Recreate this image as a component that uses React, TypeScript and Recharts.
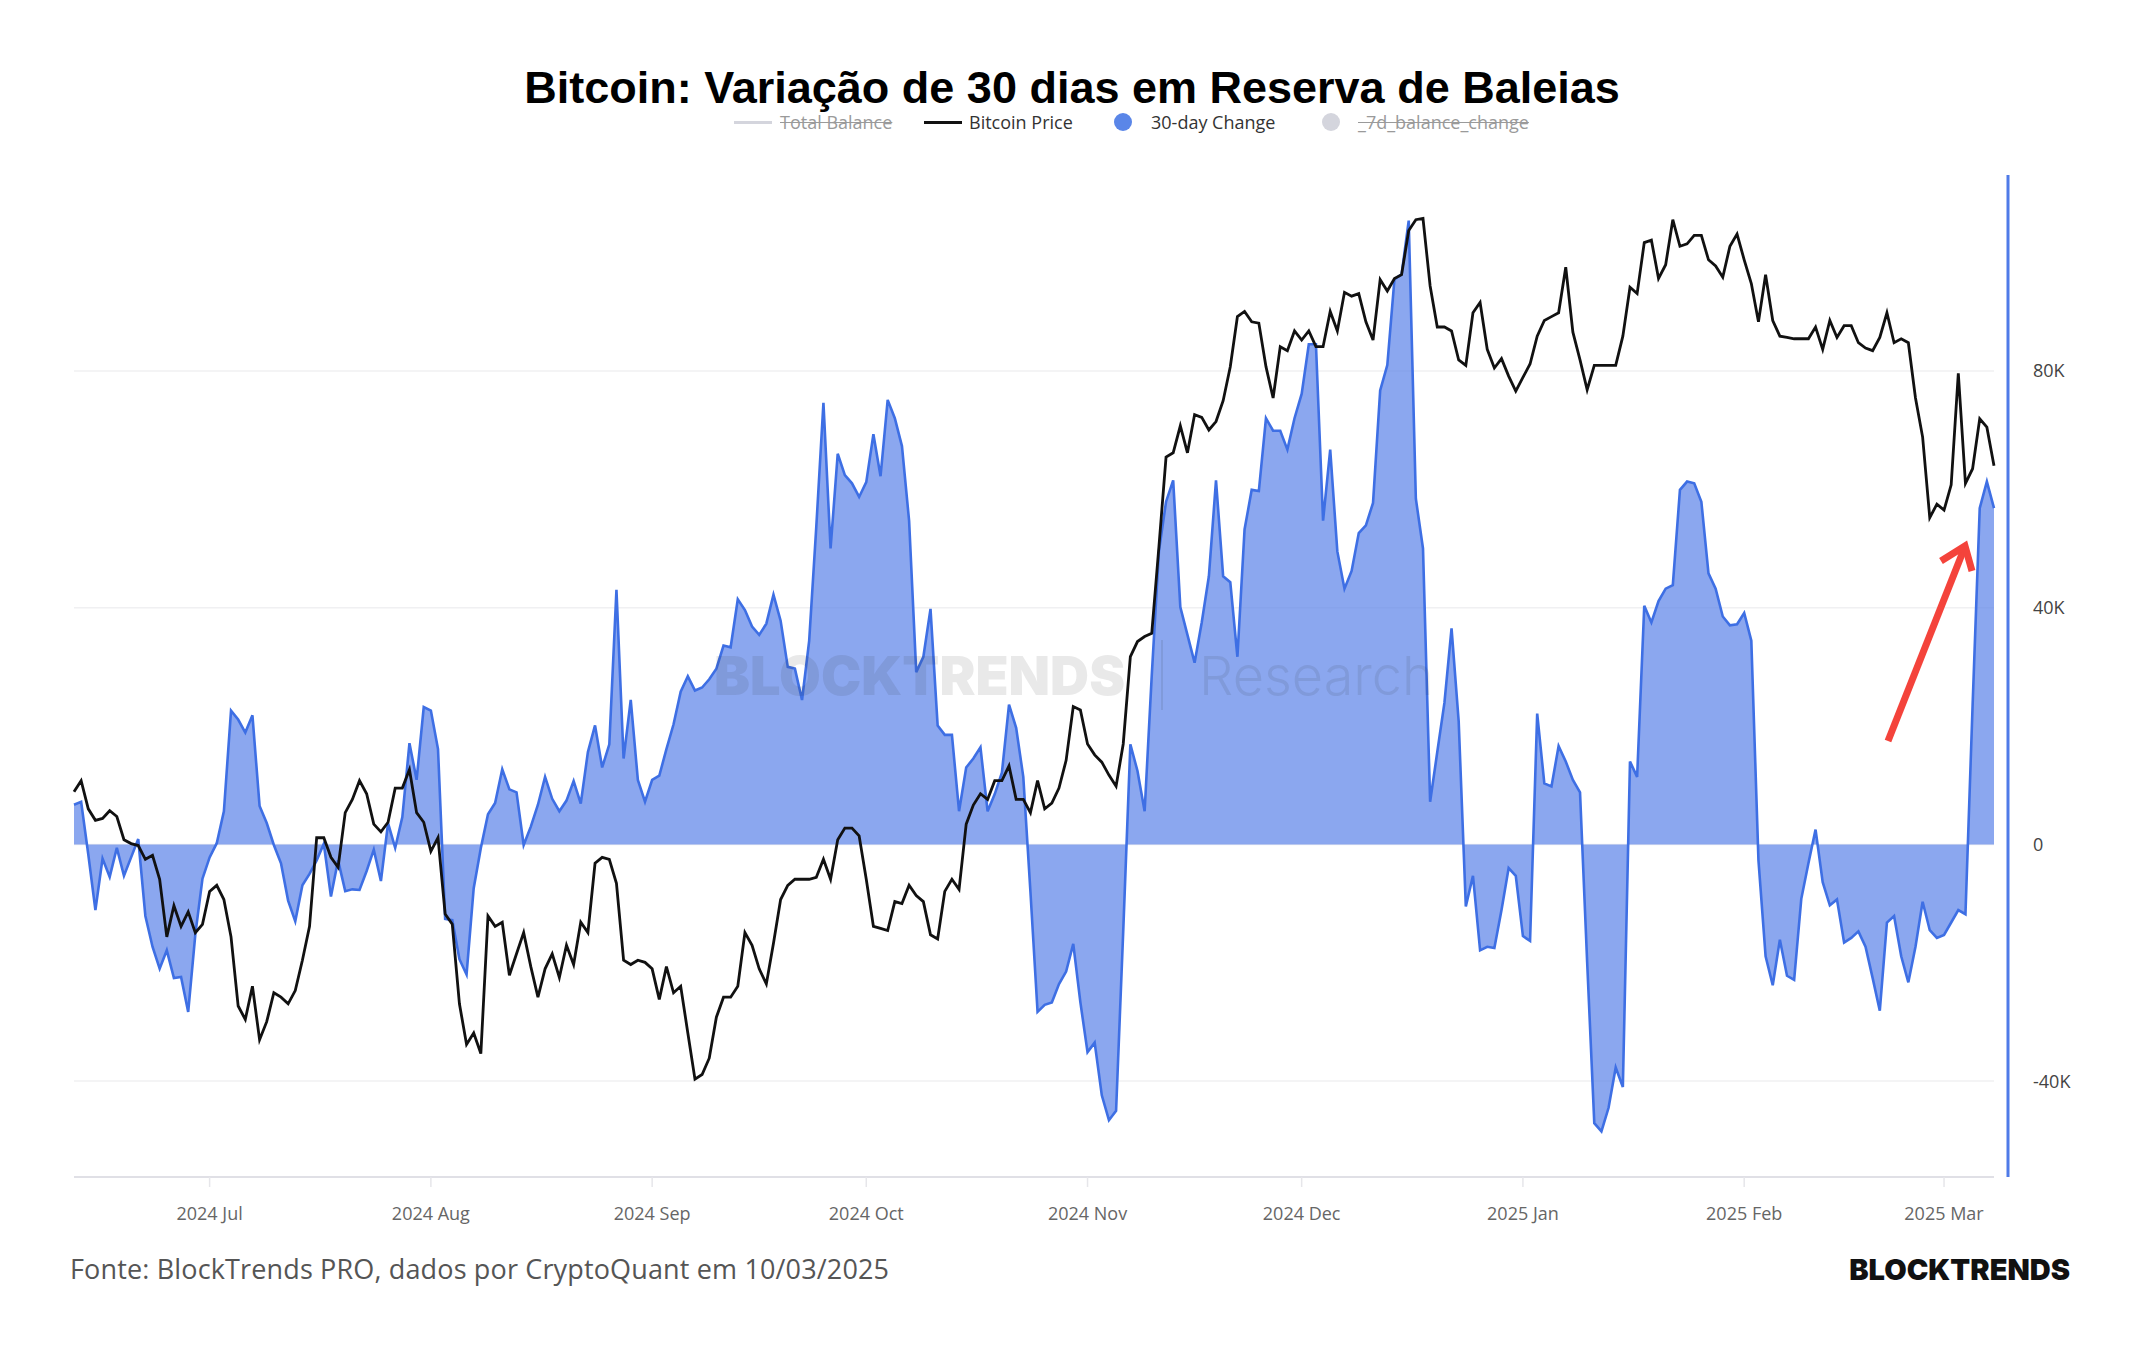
import React from 'react';
import { ComposedChart, Area, Line, XAxis, YAxis, CartesianGrid } from 'recharts';

// Daily series, one value per day starting at START_DATE
const START_DATE = '2024-06-12';

// 30-day change of whale holdings, in thousands of BTC
const CHANGE_30D_K = [
  6.7, 7.2, -1.7, -11.1, -2.4, -5.5, -0.6, -5.3, -2.2, 0.9,
  -12.1, -17.3, -21.0, -17.9, -22.6, -22.4, -28.3, -15.2, -5.8, -2.2,
  0.2, 5.6, 22.6, 21.1, 18.9, 21.8, 6.5, 3.6, -0.1, -3.2,
  -9.5, -13.0, -6.9, -5.0, -2.7, 0.1, -8.8, -2.7, -7.9, -7.6,
  -7.7, -4.5, -0.9, -6.2, 3.6, -0.6, 4.6, 17.1, 10.9, 23.2,
  22.6, 16.1, -12.6, -12.8, -19.4, -22.0, -7.4, -0.6, 5.1, 7.0,
  12.7, 9.3, 8.8, -0.1, 3.0, 6.7, 11.4, 7.7, 5.6, 7.4,
  10.7, 6.9, 15.6, 20.1, 13.0, 16.9, 43.0, 14.5, 24.4, 10.9,
  7.2, 10.9, 11.6, 16.1, 20.3, 25.8, 28.4, 26.0, 26.5, 27.9,
  29.7, 33.6, 33.3, 41.4, 39.6, 36.8, 35.4, 37.3, 42.2, 37.8,
  30.0, 29.7, 24.4, 34.4, 53.7, 74.6, 50.0, 66.0, 62.4, 61.0,
  58.7, 61.2, 69.3, 62.2, 75.1, 72.0, 67.3, 54.7, 29.1, 31.7,
  39.8, 20.1, 18.5, 18.5, 5.6, 13.0, 14.5, 16.4, 5.6, 8.5,
  12.1, 23.6, 19.7, 11.4, -8.0, -28.3, -27.1, -26.7, -23.6, -21.5,
  -16.8, -26.7, -35.1, -33.5, -42.4, -46.6, -45.0, -14.7, 16.9, 12.4,
  5.6, 28.6, 49.5, 57.9, 61.5, 40.1, 35.4, 30.7, 37.5, 45.3,
  61.5, 45.3, 44.3, 31.7, 53.2, 59.9, 59.7, 72.0, 69.9, 69.9,
  66.7, 72.0, 76.1, 84.5, 84.5, 54.7, 66.7, 49.5, 43.2, 46.2,
  52.6, 53.9, 57.7, 76.7, 81.0, 95.5, 96.3, 105.4, 58.4, 50.0,
  7.2, 15.6, 23.9, 36.5, 20.8, -10.5, -5.3, -17.9, -17.3, -17.5,
  -11.1, -4.0, -5.3, -15.5, -16.3, 22.1, 10.3, 9.8, 16.6, 14.0,
  10.9, 8.8, -19.9, -47.1, -48.5, -44.5, -37.7, -41.0, 14.0, 11.4,
  40.3, 37.5, 41.1, 43.2, 43.8, 59.9, 61.3, 61.0, 57.9, 45.8,
  43.2, 38.5, 37.0, 37.2, 39.1, 34.4, -2.7, -18.9, -23.8, -16.1,
  -22.2, -22.9, -9.2, -3.2, 2.5, -6.4, -10.3, -9.3, -16.6, -15.8,
  -14.7, -17.3, -22.6, -28.1, -13.2, -12.1, -18.9, -23.3, -17.3, -9.7,
  -14.5, -15.8, -15.3, -13.2, -11.1, -11.8, 23.4, 56.8, 61.3, 56.8,
];

// Bitcoin daily price, in thousands of USD
const BTC_PRICE_K = [
  67.7, 68.3, 66.8, 66.2, 66.3, 66.7, 66.4, 65.2, 65.0, 64.9,
  64.2, 64.4, 63.2, 60.4, 61.9, 60.9, 61.6, 60.6, 61.0, 62.6,
  62.9, 62.2, 60.4, 57.2, 56.6, 58.1, 55.7, 56.5, 57.8, 57.6,
  57.3, 57.9, 59.3, 60.9, 65.3, 65.3, 64.3, 63.8, 66.6, 67.3,
  68.3, 67.6, 66.0, 65.6, 66.1, 67.9, 67.9, 68.9, 66.6, 66.1,
  64.6, 65.3, 61.5, 61.0, 57.3, 55.5, 56.0, 55.1, 61.4, 60.9,
  61.1, 58.6, 59.6, 60.6, 59.0, 57.6, 58.9, 59.6, 58.5, 60.0,
  59.1, 61.1, 60.6, 64.0, 64.3, 64.2, 63.0, 59.3, 59.1, 59.3,
  59.2, 58.9, 57.5, 59.0, 57.8, 58.1, 56.0, 54.0, 54.2, 54.9,
  56.7, 57.6, 57.6, 58.1, 60.6, 60.0, 58.9, 58.2, 60.1, 62.2,
  62.9, 63.2, 63.2, 63.2, 63.3, 64.2, 63.2, 65.2, 65.8, 65.8,
  65.4, 63.2, 60.9, 60.8, 60.7, 62.1, 62.0, 62.9, 62.4, 62.1,
  60.5, 60.3, 62.6, 63.2, 62.7, 66.0, 67.0, 67.6, 67.3, 68.3,
  68.3, 69.1, 67.3, 67.3, 66.6, 68.3, 66.8, 67.1, 67.9, 69.4,
  72.4, 72.2, 70.3, 69.7, 69.3, 68.6, 68.0, 70.3, 75.3, 76.2,
  76.5, 76.7, 82.1, 88.1, 88.4, 90.3, 88.4, 91.1, 90.9, 90.0,
  90.6, 92.1, 94.6, 98.4, 98.8, 98.0, 97.9, 94.6, 92.3, 96.1,
  95.8, 97.3, 96.6, 97.3, 96.1, 96.1, 98.8, 97.3, 100.3, 100.0,
  100.2, 98.0, 96.6, 101.3, 100.4, 101.4, 101.7, 105.3, 106.2, 106.3,
  100.8, 97.6, 97.6, 97.3, 95.1, 94.7, 98.7, 99.5, 95.9, 94.5,
  95.2, 93.9, 92.8, 93.8, 94.8, 96.9, 98.1, 98.4, 98.7, 102.3,
  97.2, 95.1, 92.9, 94.7, 94.7, 94.7, 94.7, 96.9, 100.7, 100.2,
  104.3, 104.5, 101.4, 102.5, 106.2, 104.0, 104.2, 104.9, 104.9, 102.9,
  102.4, 101.5, 104.0, 105.0, 102.9, 101.0, 98.0, 101.7, 98.1, 96.9,
  96.8, 96.7, 96.7, 96.7, 97.6, 95.9, 98.1, 96.8, 97.7, 97.7,
  96.4, 96.0, 95.8, 96.8, 98.7, 96.4, 96.7, 96.4, 92.3, 89.5,
  84.0, 84.9, 84.5, 86.2, 94.1, 86.3, 87.3, 90.8, 90.2, 87.5,
];

const MONTH_TICK_DATES = [
  '2024-07-01', '2024-08-01', '2024-09-01', '2024-10-01', '2024-11-01',
  '2024-12-01', '2025-01-01', '2025-02-01', '2025-03-01',
];
const MONTH_TICK_LABELS = [
  '2024 Jul', '2024 Aug', '2024 Sep', '2024 Oct', '2024 Nov',
  '2024 Dec', '2025 Jan', '2025 Feb', '2025 Mar',
];
const CHANGE_TICKS = [-40000, 0, 40000, 80000];

const DAY_MS = 86400000;
const dayIndex = (iso: string) =>
  Math.round((Date.parse(iso) - Date.parse(START_DATE)) / DAY_MS);

const MONTH_TICK_DAYS = MONTH_TICK_DATES.map(dayIndex);
const tickLabelByDay: Record<number, string> = {};
MONTH_TICK_DAYS.forEach((d, i) => {
  tickLabelByDay[d] = MONTH_TICK_LABELS[i];
});

const chartData = CHANGE_30D_K.map((c, i) => ({
  day: i,
  change: c * 1000,
  price: BTC_PRICE_K[i] * 1000,
}));

const W = 2144;
const H = 1350;
const SANS = '"Open Sans", "Noto Sans", sans-serif';

const formatK = (v: number) => (v === 0 ? '0' : `${v / 1000}K`);

const legendText: React.CSSProperties = {
  position: 'absolute',
  top: 109,
  fontFamily: SANS,
  fontSize: 18,
  lineHeight: '26px',
  whiteSpace: 'nowrap',
};

function Legend() {
  return (
    <>
      <div style={{ position: 'absolute', left: 734, top: 121, width: 38, height: 3, background: '#d4d5dd' }} />
      <div style={{ ...legendText, left: 780, color: '#9a9a9a', textDecoration: 'line-through' }}>Total Balance</div>
      <div style={{ position: 'absolute', left: 924, top: 121, width: 38, height: 3, background: '#111' }} />
      <div style={{ ...legendText, left: 969, color: '#333' }}>Bitcoin Price</div>
      <div style={{ position: 'absolute', left: 1114, top: 113, width: 18, height: 18, borderRadius: 9, background: '#5a86e8' }} />
      <div style={{ ...legendText, left: 1151, color: '#333' }}>30-day Change</div>
      <div style={{ position: 'absolute', left: 1322, top: 113, width: 18, height: 18, borderRadius: 9, background: '#d4d5dd' }} />
      <div style={{ ...legendText, left: 1358, color: '#9a9a9a', textDecoration: 'line-through' }}>_7d_balance_change</div>
    </>
  );
}

export default function App() {
  return (
    <div
      style={{
        position: 'absolute',
        left: 0,
        top: 0,
        width: W,
        height: H,
        background: '#fff',
        overflow: 'hidden',
      }}
    >
      <div style={{ position: 'absolute', left: 0, top: 0 }}>
        <ComposedChart
          width={W}
          height={H}
          data={chartData}
          margin={{ top: 175, right: 90, bottom: 133, left: 74 }}
        >
          <CartesianGrid
            yAxisId="chg"
            vertical={false}
            horizontalValues={CHANGE_TICKS}
            stroke="#f0f0f2"
            strokeWidth={1.5}
          />
          <XAxis
            type="number"
            dataKey="day"
            domain={[0, CHANGE_30D_K.length - 1]}
            ticks={MONTH_TICK_DAYS}
            interval={0}
            tickFormatter={(v: number) => tickLabelByDay[v] ?? ''}
            height={40}
            axisLine={{ stroke: '#e0e0e6', strokeWidth: 2 }}
            tickLine={{ stroke: '#e6e6ea', strokeWidth: 1.5 }}
            tickSize={10}
            tickMargin={20}
            tick={{ fill: '#666', fontSize: 18, fontFamily: SANS }}
          />
          <YAxis
            yAxisId="price"
            hide
            type="number"
            scale="log"
            domain={[50000, 110000]}
            allowDataOverflow
          />
          <YAxis
            yAxisId="chg"
            orientation="right"
            type="number"
            domain={[-56200, 113100]}
            allowDataOverflow
            ticks={CHANGE_TICKS}
            interval={0}
            width={60}
            tickFormatter={formatK}
            axisLine={{ stroke: '#4f7be8', strokeWidth: 3, transform: 'translate(14 0)' }}
            tickLine={false}
            tickSize={0}
            tickMargin={39}
            tick={{ fill: '#444', fontSize: 18, fontFamily: SANS }}
          />
          <Area
            yAxisId="chg"
            dataKey="change"
            type="linear"
            stroke="#3e6fe4"
            strokeWidth={2.6}
            fill="#5a82e8"
            fillOpacity={0.7}
            baseValue={0}
            dot={false}
            activeDot={false}
            isAnimationActive={false}
          />
          <Line
            yAxisId="price"
            dataKey="price"
            type="linear"
            stroke="#111"
            strokeWidth={2.8}
            dot={false}
            activeDot={false}
            isAnimationActive={false}
          />
        </ComposedChart>
      </div>

      {/* Title */}
      <div
        style={{
          position: 'absolute',
          left: 0,
          top: 58,
          width: W,
          textAlign: 'center',
          fontFamily: '"Liberation Sans", Arial, sans-serif',
          fontWeight: 700,
          fontSize: 45,
          lineHeight: '60px',
          color: '#000',
        }}
      >
        Bitcoin: Variação de 30 dias em Reserva de Baleias
      </div>

      <Legend />

      {/* Watermark */}
      <div
        style={{
          position: 'absolute',
          left: 714,
          top: 640,
          height: 70,
          display: 'flex',
          alignItems: 'center',
          color: 'rgba(40,40,40,0.1)',
          fontFamily: 'Inter, sans-serif',
          fontSize: 54,
          whiteSpace: 'nowrap',
          pointerEvents: 'none',
        }}
      >
        <span style={{ fontWeight: 900 }}>BLOCKTRENDS</span>
        <span style={{ display: 'inline-block', width: 2, height: 70, background: 'rgba(40,40,40,0.1)', margin: '0 36px 0 36px' }} />
        <span style={{ fontWeight: 300 }}>Research</span>
      </div>

      {/* Annotation arrow */}
      <svg width={W} height={H} style={{ position: 'absolute', left: 0, top: 0, pointerEvents: 'none' }}>
        <line x1={1888} y1={741} x2={1964} y2={549} stroke="#f4433b" strokeWidth={7} />
        <polyline
          points="1941,561 1965,546 1972,571"
          fill="none"
          stroke="#f4433b"
          strokeWidth={7}
          strokeLinejoin="miter"
        />
      </svg>

      {/* Footer */}
      <div
        style={{
          position: 'absolute',
          left: 70,
          top: 1251,
          fontFamily: '"Open Sans", sans-serif',
          fontSize: 27,
          letterSpacing: 0.15,
          lineHeight: '36px',
          color: '#555',
          whiteSpace: 'nowrap',
        }}
      >
        Fonte: BlockTrends PRO, dados por CryptoQuant em 10/03/2025
      </div>
      <div
        style={{
          position: 'absolute',
          right: W - 2070,
          top: 1252,
          fontFamily: 'Inter, sans-serif',
          fontWeight: 900,
          fontSize: 29,
          lineHeight: '36px',
          color: '#111',
          whiteSpace: 'nowrap',
        }}
      >
        BLOCKTRENDS
      </div>
    </div>
  );
}
